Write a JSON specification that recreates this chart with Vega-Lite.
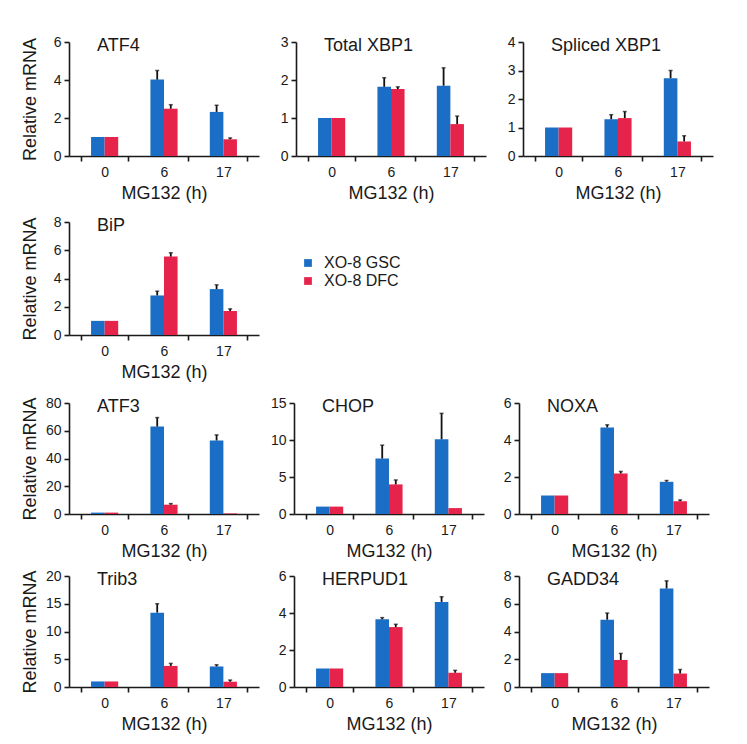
{
"$schema": "https://vega.github.io/schema/vega-lite/v6.json",
"padding": {"left": 20, "top": 35, "right": 5, "bottom": 5},
"datasets": {"d": [
{"g":"ATF4","t":0,"s":"XO-8 GSC","v":1,"e":null},{"g":"ATF4","t":6,"s":"XO-8 GSC","v":4.02,"e":4.5},{"g":"ATF4","t":17,"s":"XO-8 GSC","v":2.32,"e":2.67},
{"g":"ATF4","t":0,"s":"XO-8 DFC","v":1,"e":null},{"g":"ATF4","t":6,"s":"XO-8 DFC","v":2.49,"e":2.7},{"g":"ATF4","t":17,"s":"XO-8 DFC","v":0.88,"e":0.95},
{"g":"Total XBP1","t":0,"s":"XO-8 GSC","v":1,"e":null},{"g":"Total XBP1","t":6,"s":"XO-8 GSC","v":1.82,"e":2.06},{"g":"Total XBP1","t":17,"s":"XO-8 GSC","v":1.85,"e":2.32},
{"g":"Total XBP1","t":0,"s":"XO-8 DFC","v":1,"e":null},{"g":"Total XBP1","t":6,"s":"XO-8 DFC","v":1.76,"e":1.82},{"g":"Total XBP1","t":17,"s":"XO-8 DFC","v":0.84,"e":1.05},
{"g":"Spliced XBP1","t":0,"s":"XO-8 GSC","v":1,"e":null},{"g":"Spliced XBP1","t":6,"s":"XO-8 GSC","v":1.29,"e":1.45},{"g":"Spliced XBP1","t":17,"s":"XO-8 GSC","v":2.73,"e":3.0},
{"g":"Spliced XBP1","t":0,"s":"XO-8 DFC","v":1,"e":null},{"g":"Spliced XBP1","t":6,"s":"XO-8 DFC","v":1.33,"e":1.56},{"g":"Spliced XBP1","t":17,"s":"XO-8 DFC","v":0.51,"e":0.71},
{"g":"BiP","t":0,"s":"XO-8 GSC","v":1,"e":null},{"g":"BiP","t":6,"s":"XO-8 GSC","v":2.8,"e":3.1},{"g":"BiP","t":17,"s":"XO-8 GSC","v":3.25,"e":3.55},
{"g":"BiP","t":0,"s":"XO-8 DFC","v":1,"e":null},{"g":"BiP","t":6,"s":"XO-8 DFC","v":5.55,"e":5.82},{"g":"BiP","t":17,"s":"XO-8 DFC","v":1.7,"e":1.85},
{"g":"ATF3","t":0,"s":"XO-8 GSC","v":1,"e":null},{"g":"ATF3","t":6,"s":"XO-8 GSC","v":63,"e":69.5},{"g":"ATF3","t":17,"s":"XO-8 GSC","v":53,"e":57},
{"g":"ATF3","t":0,"s":"XO-8 DFC","v":1,"e":null},{"g":"ATF3","t":6,"s":"XO-8 DFC","v":6.7,"e":7.5},{"g":"ATF3","t":17,"s":"XO-8 DFC","v":0.4,"e":null},
{"g":"CHOP","t":0,"s":"XO-8 GSC","v":1,"e":null},{"g":"CHOP","t":6,"s":"XO-8 GSC","v":7.5,"e":9.3},{"g":"CHOP","t":17,"s":"XO-8 GSC","v":10.1,"e":13.6},
{"g":"CHOP","t":0,"s":"XO-8 DFC","v":1,"e":null},{"g":"CHOP","t":6,"s":"XO-8 DFC","v":4.0,"e":4.6},{"g":"CHOP","t":17,"s":"XO-8 DFC","v":0.8,"e":null},
{"g":"NOXA","t":0,"s":"XO-8 GSC","v":1,"e":null},{"g":"NOXA","t":6,"s":"XO-8 GSC","v":4.68,"e":4.82},{"g":"NOXA","t":17,"s":"XO-8 GSC","v":1.74,"e":1.81},
{"g":"NOXA","t":0,"s":"XO-8 DFC","v":1,"e":null},{"g":"NOXA","t":6,"s":"XO-8 DFC","v":2.19,"e":2.3},{"g":"NOXA","t":17,"s":"XO-8 DFC","v":0.69,"e":0.76},
{"g":"Trib3","t":0,"s":"XO-8 GSC","v":1,"e":null},{"g":"Trib3","t":6,"s":"XO-8 GSC","v":13.4,"e":15.0},{"g":"Trib3","t":17,"s":"XO-8 GSC","v":3.7,"e":4.0},
{"g":"Trib3","t":0,"s":"XO-8 DFC","v":1,"e":null},{"g":"Trib3","t":6,"s":"XO-8 DFC","v":3.8,"e":4.25},{"g":"Trib3","t":17,"s":"XO-8 DFC","v":0.95,"e":1.25},
{"g":"HERPUD1","t":0,"s":"XO-8 GSC","v":1,"e":null},{"g":"HERPUD1","t":6,"s":"XO-8 GSC","v":3.66,"e":3.75},{"g":"HERPUD1","t":17,"s":"XO-8 GSC","v":4.6,"e":4.88},
{"g":"HERPUD1","t":0,"s":"XO-8 DFC","v":1,"e":null},{"g":"HERPUD1","t":6,"s":"XO-8 DFC","v":3.24,"e":3.39},{"g":"HERPUD1","t":17,"s":"XO-8 DFC","v":0.77,"e":0.9},
{"g":"GADD34","t":0,"s":"XO-8 GSC","v":1,"e":null},{"g":"GADD34","t":6,"s":"XO-8 GSC","v":4.85,"e":5.33},{"g":"GADD34","t":17,"s":"XO-8 GSC","v":7.1,"e":7.65},
{"g":"GADD34","t":0,"s":"XO-8 DFC","v":1,"e":null},{"g":"GADD34","t":6,"s":"XO-8 DFC","v":1.95,"e":2.42},{"g":"GADD34","t":17,"s":"XO-8 DFC","v":0.97,"e":1.26}
]},
"data": {"name": "d"},
"spacing": 15,
"resolve": {"scale": {"color": "independent"}, "legend": {"color": "independent"}},
"vconcat": [
{"spacing": 13, "resolve": {"scale": {"color": "independent"}, "legend": {"color": "independent"}}, "vconcat": [
{"hconcat": [
{"title": "ATF4", "width": 190, "height": 114, "transform": [{"filter": "datum.g === 'ATF4'"}],
 "encoding": {"x": {"field": "t", "type": "ordinal", "axis": {"title": "MG132 (h)"}}, "xOffset": {"field": "s", "type": "nominal", "sort": ["XO-8 GSC","XO-8 DFC"]},
  "y": {"field": "v", "type": "quantitative", "scale": {"domain": [0,6]}, "axis": {"values": [0,2,4,6], "title": "Relative mRNA"}}},
 "layer": [
  {"mark": "bar", "encoding": {"color": {"field": "s", "type": "nominal", "scale": {"domain": ["XO-8 GSC","XO-8 DFC"], "range": ["#1b6ec5","#e6244b"]}, "legend": null}}},
  {"transform": [{"filter": "datum.e != null"}], "mark": {"type": "rule", "color": "#111", "strokeWidth": 1.8}, "encoding": {"y2": {"field": "e"}}},
  {"transform": [{"filter": "datum.e != null"}], "mark": {"type": "tick", "color": "#111", "thickness": 1.5, "size": 4}, "encoding": {"y": {"field": "e", "type": "quantitative", "axis": {"values": [0,2,4,6], "title": "Relative mRNA"}}}}
 ]},
{"title": "Total XBP1", "width": 190, "height": 114, "transform": [{"filter": "datum.g === 'Total XBP1'"}],
 "encoding": {"x": {"field": "t", "type": "ordinal", "axis": {"title": "MG132 (h)"}}, "xOffset": {"field": "s", "type": "nominal", "sort": ["XO-8 GSC","XO-8 DFC"]},
  "y": {"field": "v", "type": "quantitative", "scale": {"domain": [0,3]}, "axis": {"values": [0,1,2,3], "title": null}}},
 "layer": [
  {"mark": "bar", "encoding": {"color": {"field": "s", "type": "nominal", "scale": {"domain": ["XO-8 GSC","XO-8 DFC"], "range": ["#1b6ec5","#e6244b"]}, "legend": null}}},
  {"transform": [{"filter": "datum.e != null"}], "mark": {"type": "rule", "color": "#111", "strokeWidth": 1.8}, "encoding": {"y2": {"field": "e"}}},
  {"transform": [{"filter": "datum.e != null"}], "mark": {"type": "tick", "color": "#111", "thickness": 1.5, "size": 4}, "encoding": {"y": {"field": "e", "type": "quantitative", "axis": {"values": [0,1,2,3], "title": null}}}}
 ]},
{"title": "Spliced XBP1", "width": 190, "height": 114, "transform": [{"filter": "datum.g === 'Spliced XBP1'"}],
 "encoding": {"x": {"field": "t", "type": "ordinal", "axis": {"title": "MG132 (h)"}}, "xOffset": {"field": "s", "type": "nominal", "sort": ["XO-8 GSC","XO-8 DFC"]},
  "y": {"field": "v", "type": "quantitative", "scale": {"domain": [0,4]}, "axis": {"values": [0,1,2,3,4], "title": null}}},
 "layer": [
  {"mark": "bar", "encoding": {"color": {"field": "s", "type": "nominal", "scale": {"domain": ["XO-8 GSC","XO-8 DFC"], "range": ["#1b6ec5","#e6244b"]}, "legend": null}}},
  {"transform": [{"filter": "datum.e != null"}], "mark": {"type": "rule", "color": "#111", "strokeWidth": 1.8}, "encoding": {"y2": {"field": "e"}}},
  {"transform": [{"filter": "datum.e != null"}], "mark": {"type": "tick", "color": "#111", "thickness": 1.5, "size": 4}, "encoding": {"y": {"field": "e", "type": "quantitative", "axis": {"values": [0,1,2,3,4], "title": null}}}}
 ]}
], "spacing": 13, "resolve": {"scale": {"color": "independent"}, "legend": {"color": "independent"}}},
{"title": "BiP", "width": 190, "height": 113, "transform": [{"filter": "datum.g === 'BiP'"}],
 "encoding": {"x": {"field": "t", "type": "ordinal", "axis": {"title": "MG132 (h)"}}, "xOffset": {"field": "s", "type": "nominal", "sort": ["XO-8 GSC","XO-8 DFC"]},
  "y": {"field": "v", "type": "quantitative", "scale": {"domain": [0,8]}, "axis": {"values": [0,2,4,6,8], "title": "Relative mRNA"}}},
 "layer": [
  {"mark": "bar", "encoding": {"color": {"field": "s", "type": "nominal", "sort": ["XO-8 GSC","XO-8 DFC"], "scale": {"domain": ["XO-8 GSC","XO-8 DFC"], "range": ["#1b6ec5","#e6244b"]},
     "legend": {"orient": "none", "legendX": 231, "legendY": 33, "title": null, "symbolType": "square", "symbolSize": 60, "symbolStrokeWidth": 0, "labelFontSize": 16, "labelFont": "Liberation Sans", "labelColor": "#1a1a1a", "rowPadding": 2, "padding": 0, "labelOffset": 8}}}},
  {"transform": [{"filter": "datum.e != null"}], "mark": {"type": "rule", "color": "#111", "strokeWidth": 1.8}, "encoding": {"y2": {"field": "e"}}},
  {"transform": [{"filter": "datum.e != null"}], "mark": {"type": "tick", "color": "#111", "thickness": 1.5, "size": 4}, "encoding": {"y": {"field": "e", "type": "quantitative", "axis": {"values": [0,2,4,6,8], "title": "Relative mRNA"}}}}
 ]}
]},
{"spacing": 9, "resolve": {"scale": {"color": "independent"}, "legend": {"color": "independent"}}, "vconcat": [
{"hconcat": [
{"title": "ATF3", "width": 190, "height": 111, "transform": [{"filter": "datum.g === 'ATF3'"}],
 "encoding": {"x": {"field": "t", "type": "ordinal", "axis": {"title": "MG132 (h)"}}, "xOffset": {"field": "s", "type": "nominal", "sort": ["XO-8 GSC","XO-8 DFC"]},
  "y": {"field": "v", "type": "quantitative", "scale": {"domain": [0,80]}, "axis": {"values": [0,20,40,60,80], "title": "Relative mRNA"}}},
 "layer": [
  {"mark": "bar", "encoding": {"color": {"field": "s", "type": "nominal", "scale": {"domain": ["XO-8 GSC","XO-8 DFC"], "range": ["#1b6ec5","#e6244b"]}, "legend": null}}},
  {"transform": [{"filter": "datum.e != null"}], "mark": {"type": "rule", "color": "#111", "strokeWidth": 1.8}, "encoding": {"y2": {"field": "e"}}},
  {"transform": [{"filter": "datum.e != null"}], "mark": {"type": "tick", "color": "#111", "thickness": 1.5, "size": 4}, "encoding": {"y": {"field": "e", "type": "quantitative", "axis": {"values": [0,20,40,60,80], "title": "Relative mRNA"}}}}
 ]},
{"title": "CHOP", "width": 190, "height": 111, "transform": [{"filter": "datum.g === 'CHOP'"}],
 "encoding": {"x": {"field": "t", "type": "ordinal", "axis": {"title": "MG132 (h)"}}, "xOffset": {"field": "s", "type": "nominal", "sort": ["XO-8 GSC","XO-8 DFC"]},
  "y": {"field": "v", "type": "quantitative", "scale": {"domain": [0,15]}, "axis": {"values": [0,5,10,15], "title": null}}},
 "layer": [
  {"mark": "bar", "encoding": {"color": {"field": "s", "type": "nominal", "scale": {"domain": ["XO-8 GSC","XO-8 DFC"], "range": ["#1b6ec5","#e6244b"]}, "legend": null}}},
  {"transform": [{"filter": "datum.e != null"}], "mark": {"type": "rule", "color": "#111", "strokeWidth": 1.8}, "encoding": {"y2": {"field": "e"}}},
  {"transform": [{"filter": "datum.e != null"}], "mark": {"type": "tick", "color": "#111", "thickness": 1.5, "size": 4}, "encoding": {"y": {"field": "e", "type": "quantitative", "axis": {"values": [0,5,10,15], "title": null}}}}
 ]},
{"title": "NOXA", "width": 190, "height": 111, "transform": [{"filter": "datum.g === 'NOXA'"}],
 "encoding": {"x": {"field": "t", "type": "ordinal", "axis": {"title": "MG132 (h)"}}, "xOffset": {"field": "s", "type": "nominal", "sort": ["XO-8 GSC","XO-8 DFC"]},
  "y": {"field": "v", "type": "quantitative", "scale": {"domain": [0,6]}, "axis": {"values": [0,2,4,6], "title": null}}},
 "layer": [
  {"mark": "bar", "encoding": {"color": {"field": "s", "type": "nominal", "scale": {"domain": ["XO-8 GSC","XO-8 DFC"], "range": ["#1b6ec5","#e6244b"]}, "legend": null}}},
  {"transform": [{"filter": "datum.e != null"}], "mark": {"type": "rule", "color": "#111", "strokeWidth": 1.8}, "encoding": {"y2": {"field": "e"}}},
  {"transform": [{"filter": "datum.e != null"}], "mark": {"type": "tick", "color": "#111", "thickness": 1.5, "size": 4}, "encoding": {"y": {"field": "e", "type": "quantitative", "axis": {"values": [0,2,4,6], "title": null}}}}
 ]}
], "spacing": 11, "resolve": {"scale": {"color": "independent"}, "legend": {"color": "independent"}}},
{"hconcat": [
{"title": "Trib3", "width": 190, "height": 111, "transform": [{"filter": "datum.g === 'Trib3'"}],
 "encoding": {"x": {"field": "t", "type": "ordinal", "axis": {"title": "MG132 (h)"}}, "xOffset": {"field": "s", "type": "nominal", "sort": ["XO-8 GSC","XO-8 DFC"]},
  "y": {"field": "v", "type": "quantitative", "scale": {"domain": [0,20]}, "axis": {"values": [0,5,10,15,20], "title": "Relative mRNA"}}},
 "layer": [
  {"mark": "bar", "encoding": {"color": {"field": "s", "type": "nominal", "scale": {"domain": ["XO-8 GSC","XO-8 DFC"], "range": ["#1b6ec5","#e6244b"]}, "legend": null}}},
  {"transform": [{"filter": "datum.e != null"}], "mark": {"type": "rule", "color": "#111", "strokeWidth": 1.8}, "encoding": {"y2": {"field": "e"}}},
  {"transform": [{"filter": "datum.e != null"}], "mark": {"type": "tick", "color": "#111", "thickness": 1.5, "size": 4}, "encoding": {"y": {"field": "e", "type": "quantitative", "axis": {"values": [0,5,10,15,20], "title": "Relative mRNA"}}}}
 ]},
{"title": "HERPUD1", "width": 190, "height": 111, "transform": [{"filter": "datum.g === 'HERPUD1'"}],
 "encoding": {"x": {"field": "t", "type": "ordinal", "axis": {"title": "MG132 (h)"}}, "xOffset": {"field": "s", "type": "nominal", "sort": ["XO-8 GSC","XO-8 DFC"]},
  "y": {"field": "v", "type": "quantitative", "scale": {"domain": [0,6]}, "axis": {"values": [0,2,4,6], "title": null}}},
 "layer": [
  {"mark": "bar", "encoding": {"color": {"field": "s", "type": "nominal", "scale": {"domain": ["XO-8 GSC","XO-8 DFC"], "range": ["#1b6ec5","#e6244b"]}, "legend": null}}},
  {"transform": [{"filter": "datum.e != null"}], "mark": {"type": "rule", "color": "#111", "strokeWidth": 1.8}, "encoding": {"y2": {"field": "e"}}},
  {"transform": [{"filter": "datum.e != null"}], "mark": {"type": "tick", "color": "#111", "thickness": 1.5, "size": 4}, "encoding": {"y": {"field": "e", "type": "quantitative", "axis": {"values": [0,2,4,6], "title": null}}}}
 ]},
{"title": "GADD34", "width": 190, "height": 111, "transform": [{"filter": "datum.g === 'GADD34'"}],
 "encoding": {"x": {"field": "t", "type": "ordinal", "axis": {"title": "MG132 (h)"}}, "xOffset": {"field": "s", "type": "nominal", "sort": ["XO-8 GSC","XO-8 DFC"]},
  "y": {"field": "v", "type": "quantitative", "scale": {"domain": [0,8]}, "axis": {"values": [0,2,4,6,8], "title": null}}},
 "layer": [
  {"mark": "bar", "encoding": {"color": {"field": "s", "type": "nominal", "scale": {"domain": ["XO-8 GSC","XO-8 DFC"], "range": ["#1b6ec5","#e6244b"]}, "legend": null}}},
  {"transform": [{"filter": "datum.e != null"}], "mark": {"type": "rule", "color": "#111", "strokeWidth": 1.8}, "encoding": {"y2": {"field": "e"}}},
  {"transform": [{"filter": "datum.e != null"}], "mark": {"type": "tick", "color": "#111", "thickness": 1.5, "size": 4}, "encoding": {"y": {"field": "e", "type": "quantitative", "axis": {"values": [0,2,4,6,8], "title": null}}}}
 ]}
], "spacing": 11, "resolve": {"scale": {"color": "independent"}, "legend": {"color": "independent"}}}
]}
],
"config": {
 "view": {"stroke": null},
 "font": "Liberation Sans",
 "scale": {"bandPaddingInner": 0, "bandPaddingOuter": 0, "barBandPaddingInner": 0, "offsetBandPaddingInner": 0, "offsetBandPaddingOuter": 0.75},
 "axis": {"labelFont": "Liberation Sans", "titleFont": "Liberation Sans", "labelFontSize": 14, "titleFontSize": 18, "titleFontWeight": "normal", "labelColor": "#1a1a1a", "titleColor": "#1a1a1a", "domainColor": "#1a1a1a", "tickColor": "#1a1a1a", "domainWidth": 1.6, "tickWidth": 1.6, "tickSize": 5, "grid": false},
 "axisX": {"labelAngle": 0, "tickBand": "extent", "labelPadding": 4, "titlePadding": 5},
 "axisY": {"minExtent": 24, "maxExtent": 24, "titlePadding": 6, "labelPadding": 3},
 "title": {"anchor": "start", "frame": "group", "fontSize": 18, "fontWeight": "normal", "font": "Liberation Sans", "color": "#1a1a1a", "baseline": "top", "offset": 0, "dx": 28, "dy": 24}
}
}
